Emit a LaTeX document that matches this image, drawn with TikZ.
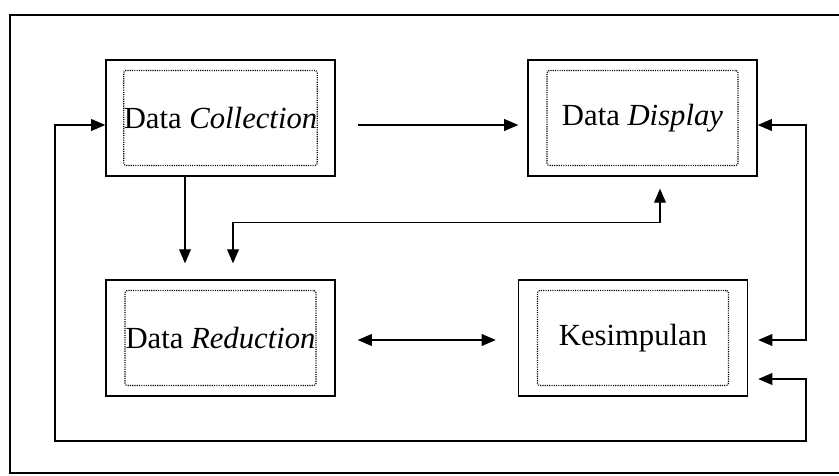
\documentclass[tikz,border=0pt]{standalone}
\usepackage{fontspec}
\setmainfont{Liberation Serif}
\usetikzlibrary{arrows.meta,calc}

\begin{document}
\begin{tikzpicture}[x=0.44pt,y=-0.44pt,
  box/.style={draw,line width=0.6pt,minimum width=100.8pt,minimum height=51pt},
  inbox/.style={draw,dash pattern=on 0.5pt off 0.5pt,line width=0.5pt,
    rounded corners=1pt,minimum width=84pt,minimum height=41.8pt,inner sep=0pt,
    font=\fontsize{13.5}{15}\selectfont},
  arr/.style={line width=0.5pt,-{Triangle[length=6.2pt,width=5.2pt]}},
  both/.style={line width=0.5pt,
    {Triangle[length=6.2pt,width=5.2pt]}-{Triangle[length=6.2pt,width=5.2pt]}}]
 \useasboundingbox (0,0) rectangle (839,475);
 \draw[line width=0.5pt] (839,15)--(10,15)--(10,473)--(839,473);
 % boxes
 \node[box] (col) at (220.5,118) {};
 \node[box] (disp) at (642.5,118) {};
 \node[box] (red) at (220.5,338) {};
 \node[box] (kes) at (633,338) {};
 \node[inbox] (colT) at (col) {Data \textit{Collection}};
 \node[inbox] (dispT) at (disp) {Data \textit{Display}};
 \node[inbox] (redT) at (red) {Data \textit{Reduction}};
 \node[inbox] (kesT) at (kes) {Kesimpulan};
 % connectors
 \draw[arr] ($(col.east)+(22,7)$) -- ($(disp.west)+(-9,7)$);
 \draw[arr] ($(col.south)+(-35.5,0)$) -- ($(red.north)+(-35.5,-16)$);
 \draw[both] ($(disp.south)+(17.5,12)$) |- ($(red.north)+(12.5,-57)$)
   -- ($(red.north)+(12.5,-16)$);
 \draw[both] ($(red.east)+(22,2)$) -- ($(kes.west)+(-22,2)$);
 \draw[both] ($(disp.east)+(0,7)$) -- (806,125) |- ($(kes.east)+(10,2)$);
 \draw[both] ($(col.west)+(0,7)$) -| (55,441) -| (806,379)
   -- ($(kes.east)+(10,41)$);
\end{tikzpicture}
\end{document}
